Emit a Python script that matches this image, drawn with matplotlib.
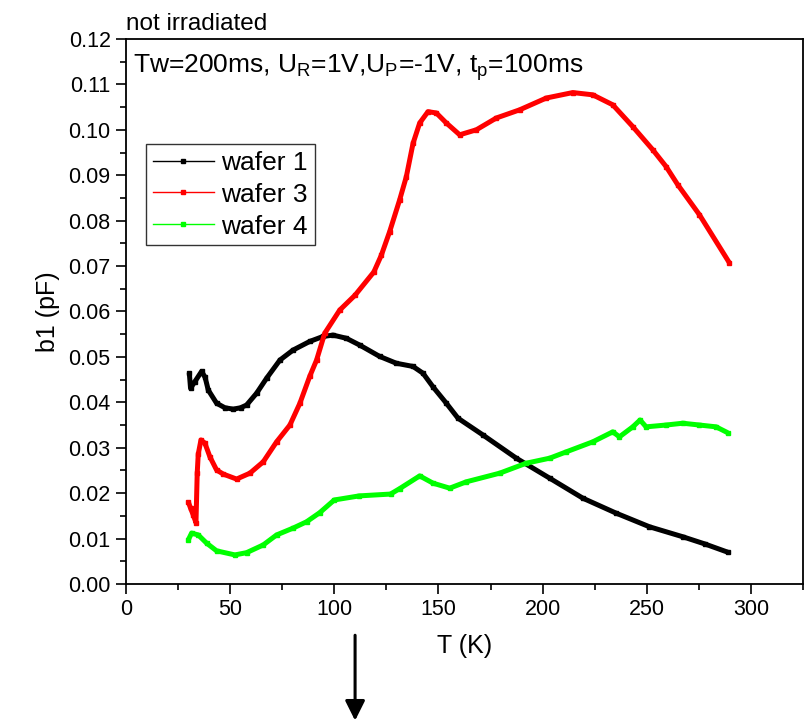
import matplotlib
matplotlib.use("Agg")
import matplotlib.pyplot as plt
from matplotlib.lines import Line2D
from matplotlib.ticker import MultipleLocator

plt.rcParams['font.family'] = ['Liberation Sans', 'DejaVu Sans']
plt.rcParams['mathtext.fontset'] = 'custom'
plt.rcParams['mathtext.rm'] = 'Liberation Sans'
plt.rcParams['mathtext.it'] = 'Liberation Sans'

# wafer 1 (black)
t1 = [30.4, 31.0, 33.0, 36.3, 38.0, 39.5, 43.5, 47.5, 51.5, 55.0, 57.9, 62.7, 67.5, 73.9, 80.2,
      88.2, 94.6, 99.4, 105.8, 112.2, 121.8, 129.8, 137.8, 142.6, 147.4, 153.8, 159.4,
      171.4, 187.4, 203.4, 219.3, 235.3, 251.3, 267.3, 278.0, 288.9]
b1 = [0.0465, 0.0431, 0.0445, 0.0468, 0.0455, 0.0427, 0.0398, 0.0388, 0.0385, 0.0388, 0.0394,
      0.0420, 0.0453, 0.0493, 0.0515, 0.0534, 0.0545, 0.0548, 0.0541, 0.0526, 0.0501, 0.0486,
      0.0479, 0.0464, 0.0434, 0.0398, 0.0365, 0.0328, 0.0277, 0.0233, 0.0189, 0.0156, 0.0126,
      0.0104, 0.0088, 0.0070]

# wafer 3 (red)
t3 = [29.9, 31.0, 32.3, 33.6, 34.2, 34.7, 36.0, 37.9, 40.3, 43.5, 46.7, 53.1, 59.5, 65.9, 72.3,
      78.7, 83.5, 88.2, 91.5, 95.4, 102.6, 110.0, 119.0, 122.6, 126.6, 131.4, 134.6, 137.8,
      141.0, 145.0, 149.0, 153.8, 160.2, 168.2, 177.8, 189.0, 201.8, 214.5, 224.1, 233.7,
      243.3, 252.9, 259.3, 264.9, 275.3, 289.7]
b3 = [0.0181, 0.0167, 0.0152, 0.0135, 0.0244, 0.0286, 0.0317, 0.0310, 0.0280, 0.0251, 0.0242,
      0.0231, 0.0244, 0.0269, 0.0313, 0.0350, 0.0398, 0.0457, 0.0493, 0.0552, 0.0603, 0.0636,
      0.0687, 0.0724, 0.0776, 0.0846, 0.0897, 0.0970, 0.1015, 0.1040, 0.1037, 0.1015, 0.0989,
      0.1000, 0.1026, 0.1044, 0.1070, 0.1082, 0.1077, 0.1055, 0.1007, 0.0956, 0.0919, 0.0879,
      0.0813, 0.0707]

# wafer 4 (green)
t4 = [29.9, 31.5, 34.7, 38.7, 43.5, 52.3, 57.9, 65.9, 72.3, 80.2, 86.7, 93.0, 100.0, 112.0,
      127.0, 131.4, 141.0, 147.4, 155.4, 163.4, 179.4, 192.2, 203.4, 211.4, 224.1, 233.7,
      236.9, 243.3, 246.8, 249.7, 259.3, 267.3, 275.3, 283.3, 288.9]
b4 = [0.0097, 0.0112, 0.0108, 0.0090, 0.0073, 0.0064, 0.0069, 0.0086, 0.0108, 0.0123, 0.0137,
      0.0157, 0.0185, 0.0194, 0.0198, 0.0210, 0.0238, 0.0222, 0.0211, 0.0225, 0.0244, 0.0266,
      0.0277, 0.0291, 0.0313, 0.0335, 0.0324, 0.0346, 0.0361, 0.0346, 0.0350, 0.0354, 0.0350,
      0.0346, 0.0333]

series = [("wafer 1", t1, b1, "#000000"),
          ("wafer 3", t3, b3, "#FF0000"),
          ("wafer 4", t4, b4, "#00FF00")]

fig = plt.figure(figsize=(8.07, 7.27), dpi=100)
ax = fig.add_axes([0.1561, 0.1967, 0.8389, 0.7497])

handles = []
for name, t, b, c in series:
    ax.plot(t, b, color=c, lw=3.6, solid_joinstyle='round', solid_capstyle='butt')
    ax.plot(t, b, color=c, lw=0, marker='s', ms=3.5)
    handles.append(Line2D([], [], color=c, lw=1, marker='s', ms=3.5, label=name))

ax.set_xlim(0, 325)
ax.set_ylim(0, 0.12)
ax.xaxis.set_major_locator(MultipleLocator(50))
ax.xaxis.set_minor_locator(MultipleLocator(25))
ax.yaxis.set_major_locator(MultipleLocator(0.01))
ax.yaxis.set_minor_locator(MultipleLocator(0.005))
ax.yaxis.set_major_formatter(matplotlib.ticker.FormatStrFormatter('%.2f'))
ax.tick_params(which='major', direction='out', length=7, width=1.2, labelsize=15.5,
               top=False, right=False, pad=4)
ax.tick_params(which='minor', direction='out', length=4, width=1.2, top=False, right=False)
for s in ax.spines.values():
    s.set_linewidth(1.3)

ax.set_xlabel("T (K)", fontsize=18, labelpad=10)
ax.set_ylabel("b1 (pF)", fontsize=18, labelpad=6)

ax.text(0.0, 1.008, "not irradiated", transform=ax.transAxes, fontsize=17.5,
        ha='left', va='bottom')
ax.text(0.011, 0.975, r'Tw=200ms, U$_\mathrm{R}$=1V,U$_\mathrm{P}$=-1V, t$_\mathrm{p}$=100ms',
        transform=ax.transAxes, fontsize=19, ha='left', va='top')

leg = ax.legend(handles=handles, loc='upper left', bbox_to_anchor=(0.03, 0.807),
                fontsize=19, frameon=True, fancybox=False, edgecolor='black',
                handlelength=2.3, handletextpad=0.3, borderpad=0.25, labelspacing=0.3,
                borderaxespad=0)
leg.get_frame().set_linewidth(1.0)

fig.patches.append(matplotlib.patches.FancyArrowPatch(
    (0.44, 0.130), (0.44, 0.005), transform=fig.transFigure,
    arrowstyle='-|>,head_length=8,head_width=4', lw=2.2, color='black',
    mutation_scale=1.5))

fig.savefig("out.png", dpi=100)
